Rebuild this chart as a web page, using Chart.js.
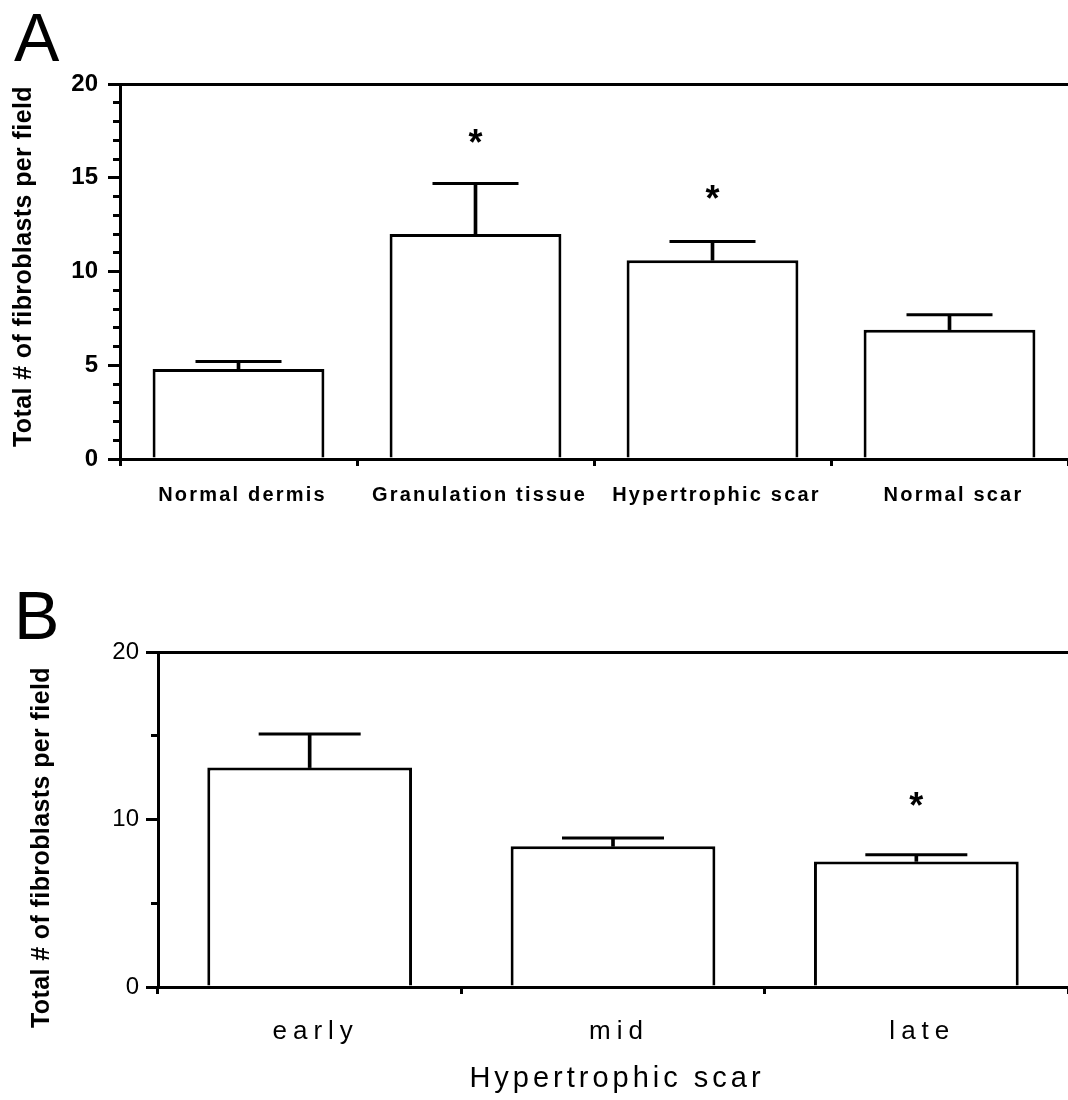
<!DOCTYPE html>
<html>
<head>
<meta charset="utf-8">
<script src="https://cdn.jsdelivr.net/npm/chart.js@4.4.1/dist/chart.umd.min.js"></script>
<style>
  html, body { margin: 0; padding: 0; background: #fff; width: 1068px; height: 1100px; overflow: hidden; }
  .wrap { position: absolute; left: 0; width: 1068px; height: 540px; }
  .panel { position: absolute; left: 14px; font-family: "Liberation Sans", Arial, sans-serif; font-size: 68px; line-height: 1; color: #000; }
</style>
</head>
<body>
<div class="wrap" style="top:0px"><canvas id="cA" width="1068" height="540"></canvas></div>
<div class="wrap" style="top:560px"><canvas id="cB" width="1068" height="540"></canvas></div>
<div class="panel" style="top:3px">A</div>
<div class="panel" style="top:581px">B</div>
<script>
// ---------- data ----------
const catsA  = ['Normal dermis', 'Granulation tissue', 'Hypertrophic scar', 'Normal scar'];
const meansA = [4.8, 12.0, 10.6, 6.9];
const semA   = [0.4, 2.7, 1.0, 0.8];
const starsA = [null, 17.3, 14.3, null];
const majorTicksA = [0, 5, 10, 15, 20];

const catsB  = ['early', 'mid', 'late'];
const meansB = [13.1, 8.4, 7.5];
const semB   = [2.0, 0.5, 0.4];
const starsB = [null, null, 11.3];
const majorTicksB = [0, 10, 20];

const yTitle = 'Total # of fibroblasts per field';
const xTitleB = 'Hypertrophic scar';

// ---------- helpers ----------
const FONT = '"Liberation Sans", Arial, sans-serif';
Chart.defaults.font.family = FONT;
Chart.defaults.color = '#000';

const spacingPlugin = {
  id: 'spacing',
  beforeDraw(chart, args, opts) {
    const map = opts.map || {};
    for (const id in map) {
      const s = chart.scales[id];
      if (!s || s._spPatched) continue;
      const m = map[id];
      const origL = s.drawLabels.bind(s), origT = s.drawTitle.bind(s);
      s.drawLabels = function (a) { const c = this.ctx; c.save(); c.letterSpacing = m.labels || '0px'; c.translate(m.labelsDx || 0, 0); origL(a); c.restore(); };
      s.drawTitle = function (a) { const c = this.ctx; c.save(); c.letterSpacing = m.title || '0px'; c.translate(m.titleDx || 0, m.titleDy || 0); origT(a); c.restore(); };
      s._spPatched = true;
    }
  }
};

const starPlugin = {
  id: 'stars',
  afterDatasetsDraw(chart, args, opts) {
    const { ctx, scales: { x, y } } = chart;
    ctx.save();
    ctx.font = 'bold ' + opts.size + 'px ' + FONT;
    ctx.fillStyle = '#000';
    ctx.textAlign = 'center';
    ctx.textBaseline = 'alphabetic';
    opts.values.forEach((v, i) => {
      if (v == null) return;
      ctx.fillText('*', x.getPixelForValue(i) + opts.dx, y.getPixelForValue(v) + opts.size * 0.57);
    });
    ctx.restore();
  }
};

function makeChart(canvasId, cats, means, sem, stars, majors, cfg) {
  const stems = means.map((m, i) => [m, m + sem[i]]);
  const tops = means.map((m, i) => m + sem[i]);
  return new Chart(document.getElementById(canvasId), {
    type: 'bar',
    data: {
      labels: cats,
      datasets: [
        { data: means, backgroundColor: '#fff', borderColor: '#000', borderWidth: 3,
          barPercentage: cfg.barPct, categoryPercentage: 1, grouped: false, order: 3 },
        { data: stems, backgroundColor: '#000', borderWidth: 0, barThickness: 3, grouped: false, order: 2 },
        { type: 'line', data: tops, showLine: false, pointStyle: 'line', pointRadius: cfg.capR,
          pointHoverRadius: cfg.capR, pointBorderWidth: 3, pointBorderColor: '#000', borderColor: '#000', order: 1 }
      ]
    },
    plugins: [spacingPlugin, starPlugin],
    options: {
      responsive: false,
      animation: false,
      events: [],
      layout: { autoPadding: false, padding: { top: cfg.top, left: 0, right: 0, bottom: 0 } },
      plugins: {
        legend: { display: false },
        tooltip: { enabled: false },
        stars: { values: stars, size: 36, dx: 0 },
        spacing: { map: {
          x: { labels: cfg.xSpacing, labelsDx: cfg.xLabelsDx, title: cfg.xTitleSpacing, titleDx: cfg.xTitleDx },
          y: { title: '0.4px', titleDy: cfg.yTitleDy } } }
      },
      scales: {
        x: {
          offset: true,
          grid: { offset: true, drawOnChartArea: false, drawTicks: true, tickLength: 7, tickWidth: 3, tickColor: '#000' },
          border: { display: true, color: '#000', width: 3 },
          ticks: { color: '#000', font: cfg.xFont, padding: cfg.xPad, maxRotation: 0, autoSkip: false },
          title: cfg.xTitle ? { display: true, text: cfg.xTitle, color: '#000', font: { size: 29 }, padding: { top: 0, bottom: 4 } } : { display: false },
          afterFit(s) { s.height = cfg.xHeight; }
        },
        y: {
          min: 0, max: 20,
          ticks: { stepSize: cfg.step, autoSkip: false, color: '#000', font: cfg.yFont, padding: cfg.yPad,
                   callback: (v) => majors.includes(v) ? String(v) : '' },
          grid: {
            drawOnChartArea: true,
            color: (c) => (c.tick && c.tick.value === 20) ? '#000' : 'rgba(0,0,0,0)',
            lineWidth: 3,
            drawTicks: true, tickLength: 12, tickWidth: 3, tickColor: '#000',
            tickBorderDash: (c) => (c.tick && majors.includes(c.tick.value)) ? [] : [0, 5, 100]
          },
          border: { display: true, color: '#000', width: 3 },
          title: { display: true, text: yTitle, color: '#000', font: { size: 25, weight: 'bold' }, padding: { top: cfg.yTitlePad, bottom: 0 } },
          afterFit(s) { s.width = cfg.yWidth; }
        }
      }
    }
  });
}

makeChart('cA', catsA, meansA, semA, starsA, majorTicksA, {
  top: 84, yWidth: 120, xHeight: 81, barPct: 0.725, capR: 43, step: 1,
  xFont: { size: 20, weight: 'bold' }, xPad: 17, xSpacing: '2.2px', xLabelsDx: 4,
  yFont: { size: 24, weight: 'bold' }, yPad: 10, yTitlePad: 9, yTitleDy: -5
});

makeChart('cB', catsB, meansB, semB, starsB, majorTicksB, {
  top: 92, yWidth: 158, xHeight: 113, barPct: 0.675, capR: 51, step: 5,
  xFont: { size: 26 }, xPad: 22, xSpacing: '6px', xLabelsDx: 6, xTitle: xTitleB, xTitleSpacing: '4px', xTitleDx: 4,
  yFont: { size: 24 }, yPad: 7, yTitlePad: 27, yTitleDy: 28
});
</script>
</body>
</html>
